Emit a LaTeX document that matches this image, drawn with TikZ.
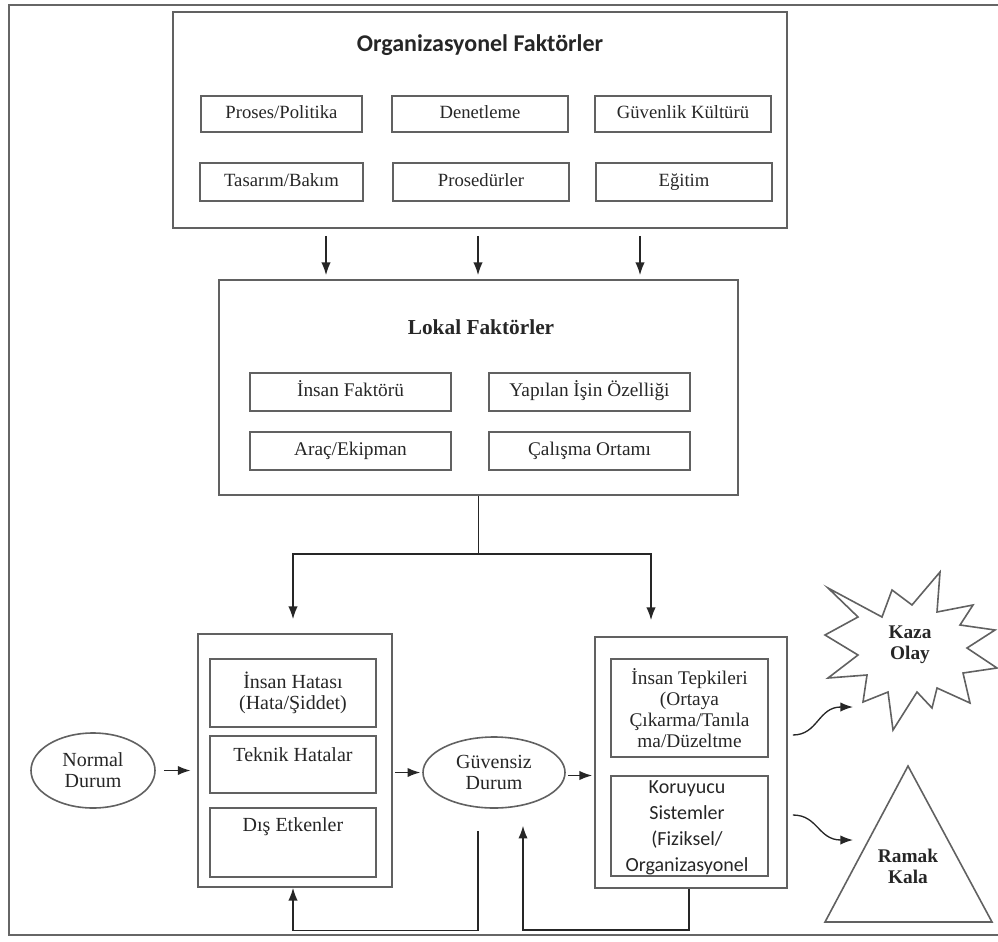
\documentclass[tikz,border=0pt]{standalone}
\usepackage{fontspec}
\setmainfont{Liberation Serif}
\newfontfamily\calib{Carlito}
\usetikzlibrary{calc,arrows.meta,shapes.geometric}
\newcommand{\PX}{0.75pt}
\begin{document}
\begin{tikzpicture}[x=0.75pt,y=-0.75pt,
  box/.style={draw=black!62, line width=1.3pt, inner sep=0pt, text=black!85},
  tbox/.style={box, line width=1.2pt, text height=9.5pt, text depth=3pt, font=\fontsize{14}{16}\selectfont},
  lbox/.style={box, line width=1.2pt, text height=9.5pt, text depth=3pt, minimum width=201*\PX, minimum height=38*\PX, font=\fontsize{14.5}{16}\selectfont},
  ibox/.style={box, line width=1.2pt, align=center, font=\fontsize{15}{15.75}\selectfont},
  txt/.style={inner sep=0pt, text=black!85, align=center, font=\fontsize{15}{15.75}\selectfont},
  ell/.style={ellipse, draw=black!62, line width=1.2pt, inner sep=0pt, align=center, text=black!85, font=\fontsize{15}{15.75}\selectfont},
  arr/.style={-{Latex[length=9.5pt,width=7pt]}, line width=1pt, draw=black!85},
  ln/.style={line width=1pt, draw=black!85},
  shp/.style={draw=black!62, line width=1.2pt, line join=miter},
]
\useasboundingbox (0,0) rectangle (998,941);
% outer frame
\draw[draw=black!60, line width=1.7pt] (9,5) rectangle (1012,935);

% organizational factors
\node[box, minimum width=614*\PX, minimum height=216*\PX] (org) at (480,120) {};
\node[inner sep=0pt, text=black!85, font=\calib\bfseries\fontsize{18}{20}\selectfont] (orgt) at (480,45) {Organizasyonel Faktörler};
\node[tbox, minimum width=161*\PX, minimum height=36*\PX] (p1) at (281.5,114) {Proses/Politika};
\node[tbox, minimum width=176*\PX, minimum height=36*\PX] (p2) at (480,114) {Denetleme};
\node[tbox, minimum width=176*\PX, minimum height=36*\PX] (p3) at (683,114) {Güvenlik Kültürü};
\node[tbox, minimum width=163*\PX, minimum height=38*\PX] (p4) at (281.5,182) {Tasarım/Bakım};
\node[tbox, minimum width=176*\PX, minimum height=38*\PX] (p5) at (481,182) {Prosedürler};
\node[tbox, minimum width=176*\PX, minimum height=38*\PX] (p6) at (684,182) {Eğitim};

% local factors
\node[box, minimum width=519*\PX, minimum height=215*\PX] (lok) at (478.5,387.5) {};
\node[inner sep=0pt, text=black!85, font=\bfseries\fontsize{16}{18}\selectfont] (lokt) at (481,327) {Lokal Faktörler};
\node[lbox] (l1) at (350.5,392) {İnsan Faktörü};
\node[lbox] (l2) at (589.5,392) {Yapılan İşin Özelliği};
\node[lbox] (l3) at (350.5,451) {Araç/Ekipman};
\node[lbox] (l4) at (589.5,451) {Çalışma Ortamı};

\draw[arr] ($(org.south)+(-154,7)$) -- ($(lok.north)+(-152.5,-4)$);
\draw[arr] ($(org.south)+(-2,7)$) -- ($(lok.north)+(-0.5,-4)$);
\draw[arr] ($(org.south)+(160,7)$) -- ($(lok.north)+(161.5,-4)$);

% bottom-left group
\node[box, minimum width=194*\PX, minimum height=253*\PX] (lb) at (295,760.5) {};
\node[ibox, minimum width=166*\PX, minimum height=68*\PX] (h1) at (293,693) {İnsan Hatası\\(Hata/Şiddet)};
\node[ibox, minimum width=166*\PX, minimum height=57*\PX] (h2) at (293,764.5) {};
\node[txt] (h2t) at (293,755) {Teknik Hatalar};
\node[ibox, minimum width=166*\PX, minimum height=69*\PX] (h3) at (293,842.5) {};
\node[txt] (h3t) at (293,827) {Dış Etkenler};

% ellipses
\node[ell, minimum width=124*\PX, minimum height=75*\PX] (nd) at (93,770.5) {Normal\\Durum};
\node[ell, minimum width=142*\PX, minimum height=71*\PX] (gd) at (494,772.5) {Güvensiz\\Durum};

% bottom-right group
\node[box, minimum width=192*\PX, minimum height=251*\PX] (rb) at (691,762.5) {};
\node[ibox, minimum width=157*\PX, minimum height=98*\PX, font=\fontsize{14.5}{15.75}\selectfont] (r1) at (689.5,708) {İnsan Tepkileri\\(Ortaya\\Çıkarma/Tanıla\\ma/Düzeltme};
\node[ibox, minimum width=157*\PX, minimum height=100*\PX] (r2) at (689.5,826) {};
\node[txt, font=\calib\fontsize{15}{19.5}\selectfont] (r2t) at (687,828) {Koruyucu\\Sistemler\\(Fiziksel/\\Organizasyonel};

% branch from local factors
\draw[ln] (lok.south) -- ($(lok.south)+(0,58)$) coordinate (j);
\draw[arr] (j) -| ($(lb.north)+(-2,-14)$);
\draw[arr] (j) -| ($(rb.north)+(-40,-16)$);

% horizontal flow arrows
\draw[arr, shorten <=6pt, shorten >=5pt] (nd.east) -- (nd.east -| lb.west);
\draw[arr, shorten <=1.5pt, shorten >=1.5pt] (lb.east |- gd.west) -- (gd.west);
\draw[arr, shorten <=1.5pt, shorten >=1.5pt] ($(gd.east)+(0,3)$) -- ($(gd.east -| rb.west)+(0,3)$);

% feedback loops
\draw[arr] ($(gd.south)+(-16,22)$) -- ++(0,100) -| ($(lb.south)+(-2,0)$);
\draw[arr] ($(rb.south)+(-2,0)$) -- ++(0,41) -| ($(gd.south)+(29,17)$);

% star (Kaza Olay)
\draw[shp] (828,588) -- (882,617) -- (892,590) -- (912,605) -- (940,572) -- (937,612)
  -- (973,605) -- (960,625) -- (995,630) -- (967,648) -- (997,668) -- (963,673)
  -- (970,703) -- (937,688) -- (932,708) -- (917,692) -- (893,730) -- (888,692)
  -- (863,702) -- (867,675) -- (828,678) -- (858,655) -- (825,635) -- (858,617) -- cycle;
\node[txt, font=\bfseries\fontsize{14.5}{15.75}\selectfont] (kz) at (910,645) {Kaza\\Olay};

% triangle (Ramak Kala)
\draw[shp] (908,766) -- (992,922) -- (825,922) -- cycle;
\node[txt, font=\bfseries\fontsize{14.5}{15.75}\selectfont] (rk) at (908,866) {Ramak\\Kala};

% curved arrows
\coordinate (c1) at (853,707);
\coordinate (c2) at (853,840);
\draw[arr] ($(rb.east)+(5,-27.5)$) .. controls (818,735) and (818,707) .. (c1);
\draw[arr] ($(rb.east)+(5,52.5)$) .. controls (818,815) and (818,840) .. (c2);
\end{tikzpicture}
\end{document}
